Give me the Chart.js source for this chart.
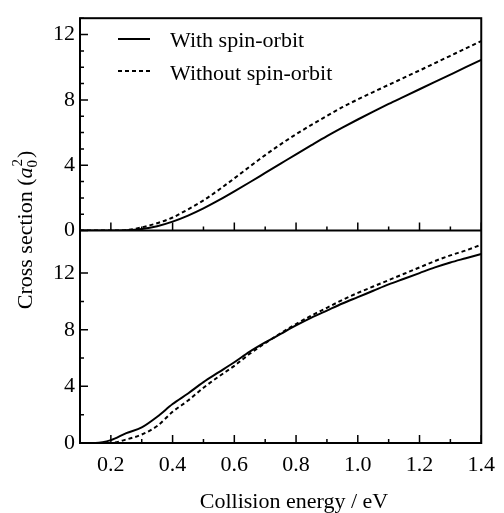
<!DOCTYPE html>
<html>
<head>
<meta charset="utf-8">
<script src="https://cdn.jsdelivr.net/npm/chart.js@4.4.1/dist/chart.umd.min.js"></script>
<style>
  html, body { margin: 0; padding: 0; background: #fff; }
  #wrap { width: 504px; height: 513px; }
</style>
</head>
<body>
<div id="wrap"><canvas id="chart" width="504" height="513"></canvas></div>
<script>
// collision energy (eV), shared by all four curves
const energies = [0.10, 0.15, 0.20, 0.25, 0.30, 0.35, 0.40, 0.45, 0.50, 0.55, 0.60, 0.65, 0.70, 0.75,
  0.80, 0.85, 0.90, 0.95, 1.00, 1.05, 1.10, 1.15, 1.20, 1.25, 1.30, 1.35, 1.40];

// upper panel
const topWith = [0, 0, 0, 0.02, 0.1, 0.27, 0.55, 0.92, 1.36, 1.86, 2.4, 2.96, 3.53, 4.1,
  4.67, 5.23, 5.78, 6.3, 6.8, 7.28, 7.75, 8.2, 8.65, 9.1, 9.55, 10.0, 10.45];
const topWithout = [0, 0, 0, 0.03, 0.2, 0.45, 0.8, 1.3, 1.85, 2.5, 3.2, 3.92, 4.62, 5.28,
  5.9, 6.47, 7.02, 7.55, 8.03, 8.48, 8.92, 9.36, 9.8, 10.25, 10.7, 11.15, 11.6];

// lower panel
const botWith = [0, 0, 0.2, 0.7, 1.1, 1.85, 2.75, 3.5, 4.3, 5.0, 5.7, 6.45, 7.1, 7.7,
  8.3, 8.85, 9.35, 9.85, 10.3, 10.75, 11.2, 11.6, 12.0, 12.4, 12.75, 13.05, 13.35];
const botWithout = [0, 0, 0, 0.25, 0.6, 1.2, 2.2, 3.0, 3.9, 4.7, 5.45, 6.3, 7.05, 7.75,
  8.4, 9.0, 9.55, 10.1, 10.6, 11.05, 11.5, 11.95, 12.4, 12.85, 13.25, 13.6, 14.0];

const legendLabels = ['With spin-orbit', 'Without spin-orbit'];
const xTitle = 'Collision energy / eV';

const FONT = '"Liberation Serif", "Times New Roman", serif';
Chart.defaults.font.family = FONT;
Chart.defaults.font.size = 22;
Chart.defaults.color = '#000';

const pts = vals => energies.map((e, i) => ({ x: e, y: vals[i] }));
const solid = { borderColor: '#000', borderWidth: 2, pointRadius: 0, cubicInterpolationMode: 'monotone' };
const dashed = { ...solid, borderDash: [4, 3] };

const framePlugin = {
  id: 'frame',
  afterDatasetsDraw(chart) {
    const { ctx, chartArea: a, scales } = chart;
    const xs = scales.x, yT = scales.yTop, yB = scales.yBot;
    ctx.save();
    ctx.strokeStyle = '#000';
    ctx.lineWidth = 2;
    ctx.strokeRect(a.left, a.top, a.right - a.left, a.bottom - a.top);
    ctx.beginPath();
    ctx.moveTo(a.left, yT.bottom);
    ctx.lineTo(a.right, yT.bottom);
    ctx.stroke();

    // inward ticks, long where labelled
    ctx.lineWidth = 1.5;
    ctx.beginPath();
    [yT, yB].forEach(ys => {
      ys.ticks.forEach(t => {
        const py = ys.getPixelForValue(t.value);
        const len = t.label !== '' ? 8 : 4;
        ctx.moveTo(a.left, py);
        ctx.lineTo(a.left + len, py);
      });
      xs.ticks.forEach(t => {
        const px = xs.getPixelForValue(t.value);
        const len = t.label !== '' ? 8 : 4;
        ctx.moveTo(px, ys.bottom);
        ctx.lineTo(px, ys.bottom - len);
      });
    });
    ctx.stroke();

    // legend
    const ds = chart.data.datasets;
    ctx.font = '22px ' + FONT;
    ctx.fillStyle = '#000';
    ctx.textBaseline = 'alphabetic';
    [[0, 39, 47], [1, 71, 80]].forEach(([i, ly, by]) => {
      ctx.lineWidth = 2;
      ctx.setLineDash(ds[i].borderDash || []);
      ctx.beginPath();
      ctx.moveTo(118, ly);
      ctx.lineTo(150, ly);
      ctx.stroke();
      ctx.setLineDash([]);
      ctx.fillText(legendLabels[i], 170, by);
    });

    // x title
    ctx.textAlign = 'center';
    ctx.fillText(xTitle, 294, 508);

    // y title: Cross section (a0^2)
    ctx.translate(32, 230);
    ctx.rotate(-Math.PI / 2);
    ctx.textAlign = 'left';
    const f = '22px ' + FONT, fi = 'italic 22px ' + FONT, fs = '15px ' + FONT;
    const parts = [['Cross section (', f], ['a', fi]];
    let w = 0;
    parts.forEach(([s, ff]) => { ctx.font = ff; w += ctx.measureText(s).width; });
    ctx.font = fs; const wsub = ctx.measureText('0').width;
    ctx.font = f; const wpar = ctx.measureText(')').width;
    w += wsub + 2 + wpar;
    let cx = -w / 2;
    parts.forEach(([s, ff]) => { ctx.font = ff; ctx.fillText(s, cx, 0); cx += ctx.measureText(s).width; });
    ctx.font = fs;
    ctx.fillText('0', cx, 5);
    ctx.fillText('2', cx + 1, -10);
    cx += wsub + 2;
    ctx.font = f;
    ctx.fillText(')', cx, 0);
    ctx.restore();
  }
};

new Chart(document.getElementById('chart'), {
  type: 'line',
  data: {
    datasets: [
      { label: legendLabels[0], data: pts(topWith), yAxisID: 'yTop', ...solid },
      { label: legendLabels[1], data: pts(topWithout), yAxisID: 'yTop', ...dashed },
      { label: legendLabels[0], data: pts(botWith), yAxisID: 'yBot', ...solid },
      { label: legendLabels[1], data: pts(botWithout), yAxisID: 'yBot', ...dashed }
    ]
  },
  options: {
    responsive: false,
    animation: false,
    layout: { padding: { left: 0, right: 17, top: 16, bottom: 0 } },
    plugins: { legend: { display: false }, tooltip: { enabled: false } },
    scales: {
      x: {
        type: 'linear', min: 0.1, max: 1.4,
        grid: { display: false, drawTicks: false },
        border: { display: false },
        ticks: {
          stepSize: 0.1, autoSkip: false, maxRotation: 0, padding: 9,
          callback: v => Math.round(v * 10) % 2 === 0 ? v.toFixed(1) : ''
        },
        afterFit: s => { s.height = 70; }
      },
      yBot: {
        type: 'linear', position: 'left', stack: 'panels', stackWeight: 1, weight: 0,
        min: 0, max: 15,
        grid: { display: false, drawTicks: false },
        border: { display: false },
        ticks: { stepSize: 2, autoSkip: false, padding: 5, callback: v => v % 4 === 0 ? String(v) : '' },
        afterFit: s => { s.width = 80; }
      },
      yTop: {
        type: 'linear', position: 'left', stack: 'panels', stackWeight: 1, weight: 1,
        min: 0, max: 13,
        grid: { display: false, drawTicks: false },
        border: { display: false },
        ticks: { stepSize: 1, autoSkip: false, padding: 5, callback: v => v % 4 === 0 ? String(v) : '' },
        afterFit: s => { s.width = 80; }
      }
    }
  },
  plugins: [framePlugin]
});
</script>
</body>
</html>
